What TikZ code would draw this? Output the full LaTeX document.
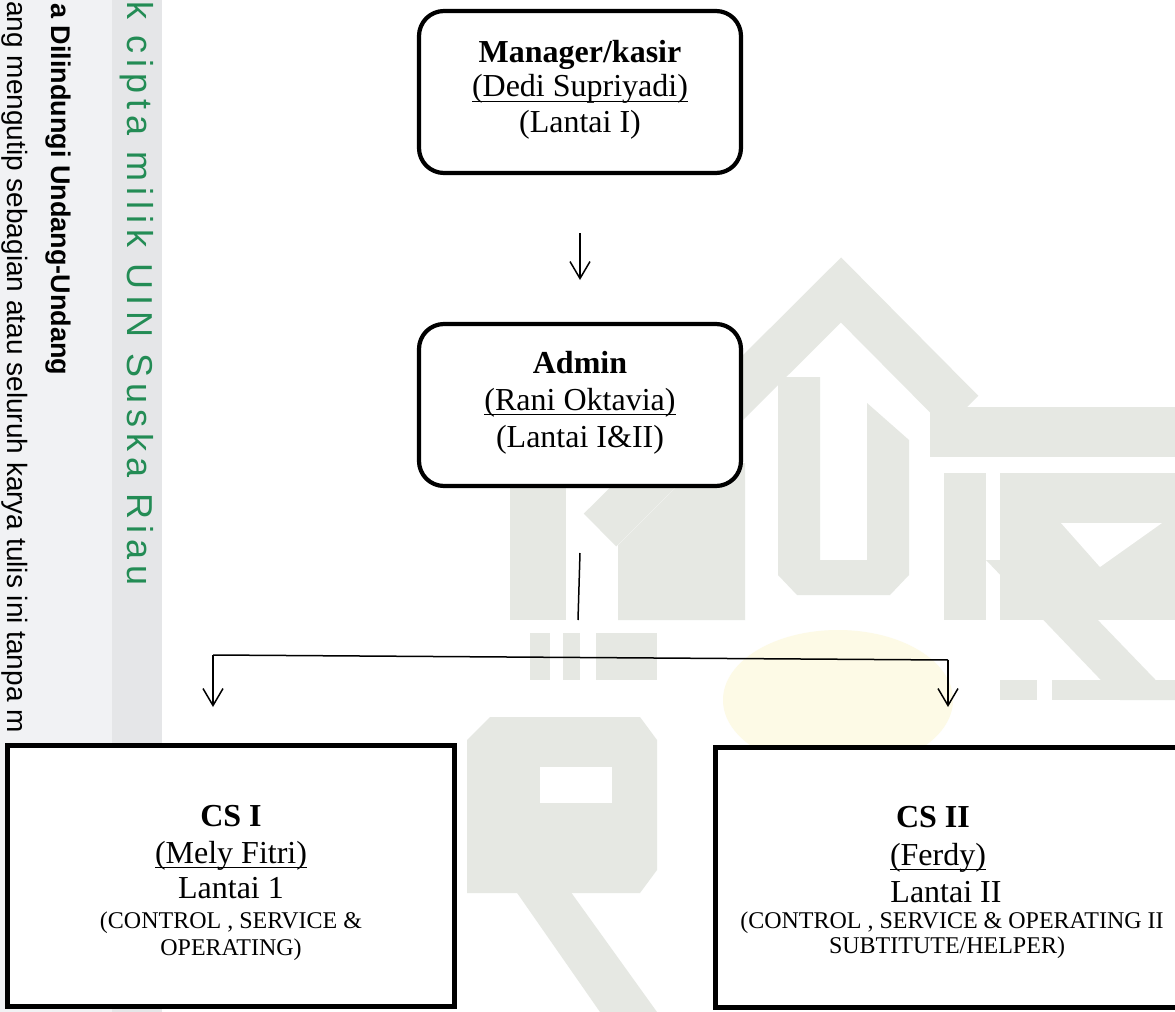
\documentclass[tikz,border=0pt]{standalone}
\usepackage{fontspec}
\setmainfont{Liberation Serif}
\newfontfamily\wmsans{Liberation Sans}
\newfontfamily\wmgreen{Liberation Sans}[LetterSpace=16.7]
\usetikzlibrary{arrows.meta}
\definecolor{wm}{RGB}{230,232,227}
\definecolor{wmy}{RGB}{253,250,230}
\definecolor{stripA}{RGB}{241,242,244}
\definecolor{stripB}{RGB}{229,230,232}
\definecolor{uingreen}{RGB}{35,140,85}
\newcommand\ulx[1]{\setbox0\hbox{#1}\rlap{\rule[-2.6pt]{\wd0}{0.8pt}}\box0}
\begin{document}
\begin{tikzpicture}[x=0.5pt,y=-0.5pt,
  rbox/.style={draw, line width=2.1pt, rounded corners=12.5pt, fill=white, inner sep=0pt, minimum width=161pt, minimum height=81pt},
  sbox/.style={draw, line width=2.5pt, fill=white, inner sep=0pt},
  tx/.style={anchor=base, inner sep=0pt, font=\fontsize{16}{18}\selectfont},
  txb/.style={tx, font=\fontsize{16}{18}\selectfont\bfseries},
  txs/.style={anchor=base, inner sep=0pt, font=\fontsize{12}{13.5}\selectfont},
  conn/.style={line width=0.75pt},
  arr/.style={conn, -{Straight Barb[length=8.5pt,width=10pt,line width=0.75pt]}},
  vt/.style={rotate=-90, anchor=base west, inner sep=0pt}
]
\useasboundingbox (0,0) rectangle (1175,1012);
\fill[white] (0,0) rectangle (1175,1012);
% left strip
\fill[stripA] (0,0) rectangle (112,1012);
\fill[stripB] (112,0) rectangle (162,1012);
% watermark (approximate)
\draw[wm, line width=23pt, line join=miter] (600,530) -- (841,290) -- (962,412);
\fill[wm] (930,407) rectangle (1175,457);
\fill[wm] (778,377) -- (820,377) -- (820,560) -- (867,560) -- (867,403) -- (909,440) -- (909,575) -- (890,595) -- (797,595) -- (778,575) -- cycle;
\fill[wm] (944,473) rectangle (986,620);
\fill[wm] (1000,473) rectangle (1175,620);
\fill[white] (1061,523) -- (1162,523) -- (1100,567) -- cycle;
\fill[wm] (510,483) rectangle (566,620);
\fill[wm] (618,620) -- (618,545) -- (700,463) -- (745,463) -- (745,620) -- cycle;
\fill[wm] (530,633) rectangle (550,680);
\fill[wm] (563,633) rectangle (580,680);
\fill[wm] (596,633) rectangle (657,680);
\fill[wm] (467,740) -- (490,717) -- (640,717) -- (657,740) -- (657,870) -- (640,893) -- (467,893) -- cycle;
\fill[white] (540,767) rectangle (612,803);
\fill[wm] (506,877) -- (560,877) -- (657,1012) -- (600,1012) -- cycle;
\fill[wm] (1000,680) rectangle (1037,700);
\fill[wm] (1052,680) rectangle (1175,700);
\fill[wm] (986,560) -- (1040,560) -- (1175,700) -- (1120,700) -- cycle;
\fill[wmy] (838,700) ellipse [x radius=115, y radius=70];
% rotated strip texts
\node[vt, font=\wmsans\fontsize{14}{16}\selectfont] (wmtxta) at (7,1) {ang mengutip sebagian atau seluruh karya tulis ini tanpa m};
\node[vt, font=\wmsans\bfseries\fontsize{13.5}{15}\selectfont] (wmtxtb) at (51,3) {a Dilindungi Undang-Undang};
\node[vt, font=\wmgreen\fontsize{18}{20}\selectfont, text=uingreen] (wmtxtc) at (127,1) {k cipta milik UIN Suska Riau};
% boxes
\node[rbox] (mgr) at (580,92) {};
\node[rbox] (adm) at (580,405) {};
\node[sbox, minimum width=223.5pt, minimum height=130.5pt] (cs1) at (231,876) {};
\node[sbox, minimum width=233.25pt, minimum height=130pt] (cs2) at (948.75,877.5) {};
% texts
\node[txb] (mgr1) at (580,62) {Manager/kasir};
\node[tx] (mgr2) at (580,97) {\ulx{(Dedi Supriyadi)}};
\node[tx] (mgr3) at (580,133) {(Lantai I)};
\node[txb] (adm1) at (580,373) {Admin};
\node[tx] (adm2) at (580,410) {\ulx{(Rani Oktavia)}};
\node[tx] (adm3) at (580,447) {(Lantai I\&II)};
\node[txb] (cs1a) at (231,826) {CS I};
\node[tx] (cs1b) at (231,863) {\ulx{(Mely Fitri)}};
\node[tx] (cs1c) at (231,898) {Lantai 1};
\node[txs] (cs1d) at (231,928) {(CONTROL , SERVICE \&};
\node[txs] (cs1e) at (231,955) {OPERATING)};
\node[txb] (cs2a) at (933,827) {CS II};
\node[tx] (cs2b) at (938,865) {\ulx{(Ferdy)}};
\node[tx] (cs2c) at (946,902) {Lantai II};
\node[txs] (cs2d) at (952,928) {(CONTROL , SERVICE \& OPERATING II};
\node[txs] (cs2e) at (947,953) {SUBTITUTE/HELPER)};
% connectors
\coordinate (a1s) at (580,233);
\coordinate (a1e) at (580,280);
\coordinate (l1s) at (580,553);
\coordinate (l1e) at (578,620);
\coordinate (hl) at (213,655);
\coordinate (hr) at (948,660);
\coordinate (al) at (213,707);
\coordinate (ar) at (948,707);
\draw[arr] (a1s) -- (a1e);
\draw[conn] (l1s) -- (l1e);
\draw[conn] (hl) -- (hr);
\draw[arr] (hl) -- (al);
\draw[arr] (hr) -- (ar);
\end{tikzpicture}
\end{document}
